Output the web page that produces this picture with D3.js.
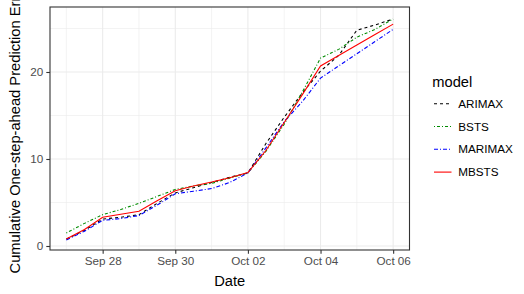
<!DOCTYPE html>
<html>
<head>
<meta charset="utf-8">
<script src="https://cdn.jsdelivr.net/npm/d3@7"></script>
<style>
html,body{margin:0;padding:0;background:#fff;}
svg{display:block;font-family:"Liberation Sans",Arial,sans-serif;}
</style>
</head>
<body>
<svg id="chart" width="524" height="294"></svg>
<script>
// time points every 12 hours from Sep 27 to Oct 06
const times = ["2017-09-27T00:00Z","2017-09-27T12:00Z","2017-09-28T00:00Z","2017-09-28T12:00Z",
  "2017-09-29T00:00Z","2017-09-29T12:00Z","2017-09-30T00:00Z","2017-09-30T12:00Z",
  "2017-10-01T00:00Z","2017-10-01T12:00Z","2017-10-02T00:00Z","2017-10-02T12:00Z",
  "2017-10-03T00:00Z","2017-10-03T12:00Z","2017-10-04T00:00Z","2017-10-04T12:00Z",
  "2017-10-05T00:00Z","2017-10-05T12:00Z","2017-10-06T00:00Z"];
const models = ["ARIMAX","BSTS","MARIMAX","MBSTS"];
const arimax  = [0.8,1.8,3.1,3.3,3.6,4.9,6.1,6.7,7.3,7.9,8.4,11.8,14.8,17.6,20.1,21.9,24.8,25.4,26.1];
const bsts    = [1.5,2.6,3.6,4.2,4.9,5.7,6.5,6.9,7.2,7.8,8.4,10.9,14.0,17.7,21.6,22.6,24.0,24.9,26.1];
const marimax = [0.7,1.7,2.95,3.15,3.5,4.7,6.0,6.3,6.6,7.3,8.4,11.3,14.3,16.6,19.3,20.7,22.1,23.5,24.9];
const mbsts   = [0.8,1.9,3.3,3.65,4.0,5.2,6.35,6.9,7.35,7.85,8.45,11.0,14.2,17.4,20.7,21.9,23.1,24.3,25.5];
const yTicks = [0,10,20];
const yMinor = [5,15,25];
const xTicks = ["2017-09-28","2017-09-30","2017-10-02","2017-10-04","2017-10-06"];
const xMinor = ["2017-09-27","2017-09-29","2017-10-01","2017-10-03","2017-10-05"];
const colors = ["#000000","#008B00","#0000FF","#FF0000"];
const dashes = ["3,3","1,2,3,2","4,2,1,2",null];

const seriesVals = [arimax,bsts,marimax,mbsts];
const dates = times.map(t=>new Date(t));
const series = models.map((m,i)=>({name:m,values:seriesVals[i].map((v,j)=>({t:dates[j],v}))}));

const svg = d3.select("#chart");
const P = {l:50, r:409.5, t:7, b:250};
const day = 86400000;
const x = d3.scaleUtc()
  .domain([new Date(dates[0].getTime()-0.45*day), new Date(dates[dates.length-1].getTime()+0.45*day)])
  .range([P.l,P.r]);
const y = d3.scaleLinear().domain([-0.46,27.47]).range([P.b,P.t]);

// panel background
svg.append("rect").attr("x",P.l).attr("y",P.t).attr("width",P.r-P.l).attr("height",P.b-P.t).attr("fill","#fff");

const grid = svg.append("g");
const parseD = s=>new Date(s+"T00:00Z");
xMinor.forEach(d=>grid.append("line").attr("x1",x(parseD(d))).attr("x2",x(parseD(d))).attr("y1",P.t).attr("y2",P.b).attr("stroke","#EBEBEB").attr("stroke-width",0.6));
yMinor.forEach(v=>grid.append("line").attr("x1",P.l).attr("x2",P.r).attr("y1",y(v)).attr("y2",y(v)).attr("stroke","#EBEBEB").attr("stroke-width",0.6));
xTicks.forEach(d=>grid.append("line").attr("x1",x(parseD(d))).attr("x2",x(parseD(d))).attr("y1",P.t).attr("y2",P.b).attr("stroke","#EBEBEB").attr("stroke-width",1.1));
yTicks.forEach(v=>grid.append("line").attr("x1",P.l).attr("x2",P.r).attr("y1",y(v)).attr("y2",y(v)).attr("stroke","#EBEBEB").attr("stroke-width",1.1));

// lines
const line = d3.line().x(d=>x(d.t)).y(d=>y(d.v));
series.forEach((s,i)=>{
  svg.append("path").datum(s.values).attr("d",line).attr("fill","none")
    .attr("stroke",colors[i]).attr("stroke-width",1.1)
    .attr("stroke-dasharray",dashes[i]);
});

// border
svg.append("rect").attr("x",P.l).attr("y",P.t).attr("width",P.r-P.l).attr("height",P.b-P.t)
  .attr("fill","none").attr("stroke","#333333").attr("stroke-width",1.1);

// axes
const xAxis = d3.axisBottom(x).tickValues(xTicks.map(parseD)).tickFormat(d3.utcFormat("%b %d")).tickSize(3.7).tickPadding(3);
const gx = svg.append("g").attr("transform",`translate(0,${P.b})`).call(xAxis);
const yAxis = d3.axisLeft(y).tickValues(yTicks).tickSize(3.7).tickPadding(3);
const gy = svg.append("g").attr("transform",`translate(${P.l},0)`).call(yAxis);
[gx,gy].forEach(g=>{
  g.select(".domain").remove();
  g.selectAll(".tick line").attr("stroke","#333333").attr("stroke-width",1.1);
  g.selectAll(".tick text").attr("fill","#4D4D4D").style("font-size","11.7px").style("font-family","Liberation Sans, Arial, sans-serif");
});

// titles
svg.append("text").attr("x",(P.l+P.r)/2).attr("y",286).attr("text-anchor","middle")
  .style("font-size","14.7px").attr("fill","#000").text("Date");
svg.append("text").attr("transform",`translate(19.5,${(P.t+P.b)/2}) rotate(-90)`).attr("text-anchor","middle")
  .style("font-size","14.7px").attr("fill","#000").text("Cumulative One-step-ahead Prediction Error");

// legend
const lg = svg.append("g");
lg.append("text").attr("x",432.3).attr("y",86.5).style("font-size","14.7px").attr("fill","#000").text("model");
const rowY = [103.7,126.5,149.3,172.1];
models.forEach((m,i)=>{
  lg.append("line").attr("x1",434).attr("x2",451.5).attr("y1",rowY[i]).attr("y2",rowY[i])
    .attr("stroke",colors[i]).attr("stroke-width",1.1).attr("stroke-dasharray",dashes[i]);
  lg.append("text").attr("x",458.3).attr("y",rowY[i]).attr("dy","0.35em")
    .style("font-size","11.7px").attr("fill","#000").text(m);
});
</script>
</body>
</html>
